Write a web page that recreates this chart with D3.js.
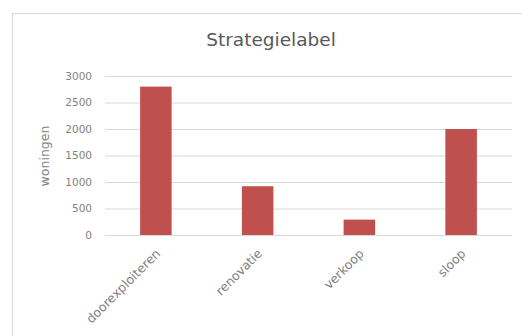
<!DOCTYPE html>
<html><head><meta charset="utf-8">
<script src="https://cdn.jsdelivr.net/npm/d3@7"></script>
<style>body{margin:0;background:#fff}svg{display:block}</style>
</head><body>
<svg id="c" width="522" height="336"></svg>
<script>
const categories = ["doorexploiteren", "renovatie", "verkoop", "sloop"];
const values = [2800, 920, 290, 2000];
const yTicks = [0, 500, 1000, 1500, 2000, 2500, 3000];
const title = "Strategielabel";
const yLabel = "woningen";

const svg = d3.select("#c");
const font = "'DejaVu Sans', sans-serif";
const m = {left: 105, right: 512, top: 76, bottom: 235};

svg.append("rect").attr("x", 12.5).attr("y", 13.5).attr("width", 530).attr("height", 340)
  .attr("fill", "#fff").attr("stroke", "#d9d9d9");

const x = d3.scaleBand().domain(categories).range([m.left, m.right]).paddingInner(0.69).paddingOuter(0.345);
const y = d3.scaleLinear().domain([0, 3000]).range([m.bottom, m.top]);

// gridlines
const yAxis = d3.axisLeft(y).tickValues(yTicks).tickSize(-(m.right - m.left)).tickPadding(13).tickFormat(d3.format("d"));
const gy = svg.append("g").attr("transform", `translate(${m.left},0)`).call(yAxis);
gy.select(".domain").remove();
gy.selectAll(".tick line").attr("stroke", "#d9d9d9").attr("stroke-width", 1);
gy.selectAll(".tick text").attr("fill", "#7f7f7f").style("font-family", font).style("font-size", "10.5px");

svg.append("g").selectAll("rect").data(values).join("rect")
  .attr("x", (d, i) => x(categories[i]))
  .attr("width", x.bandwidth())
  .attr("y", d => y(d))
  .attr("height", d => y(0) - y(d))
  .attr("fill", "#c0504d");

const xAxis = d3.axisBottom(x).tickSize(0).tickPadding(0);
const gx = svg.append("g").attr("transform", `translate(0,${m.bottom})`).call(xAxis);
gx.select(".domain").remove();
gx.selectAll(".tick text")
  .attr("fill", "#7f7f7f").style("font-family", font).style("font-size", "12.5px")
  .attr("text-anchor", "end")
  .attr("transform", "translate(0,14) rotate(-45)")
  .attr("x", 0).attr("y", 0).attr("dy", "0.6em");

svg.append("text").attr("x", 271).attr("y", 46).attr("text-anchor", "middle")
  .attr("fill", "#595959").style("font-family", font).style("font-size", "18.5px").text(title);

svg.append("text").attr("transform", "translate(49,156) rotate(-90)").attr("text-anchor", "middle")
  .attr("fill", "#7f7f7f").style("font-family", font).style("font-size", "12.5px").text(yLabel);
</script>
</body></html>
